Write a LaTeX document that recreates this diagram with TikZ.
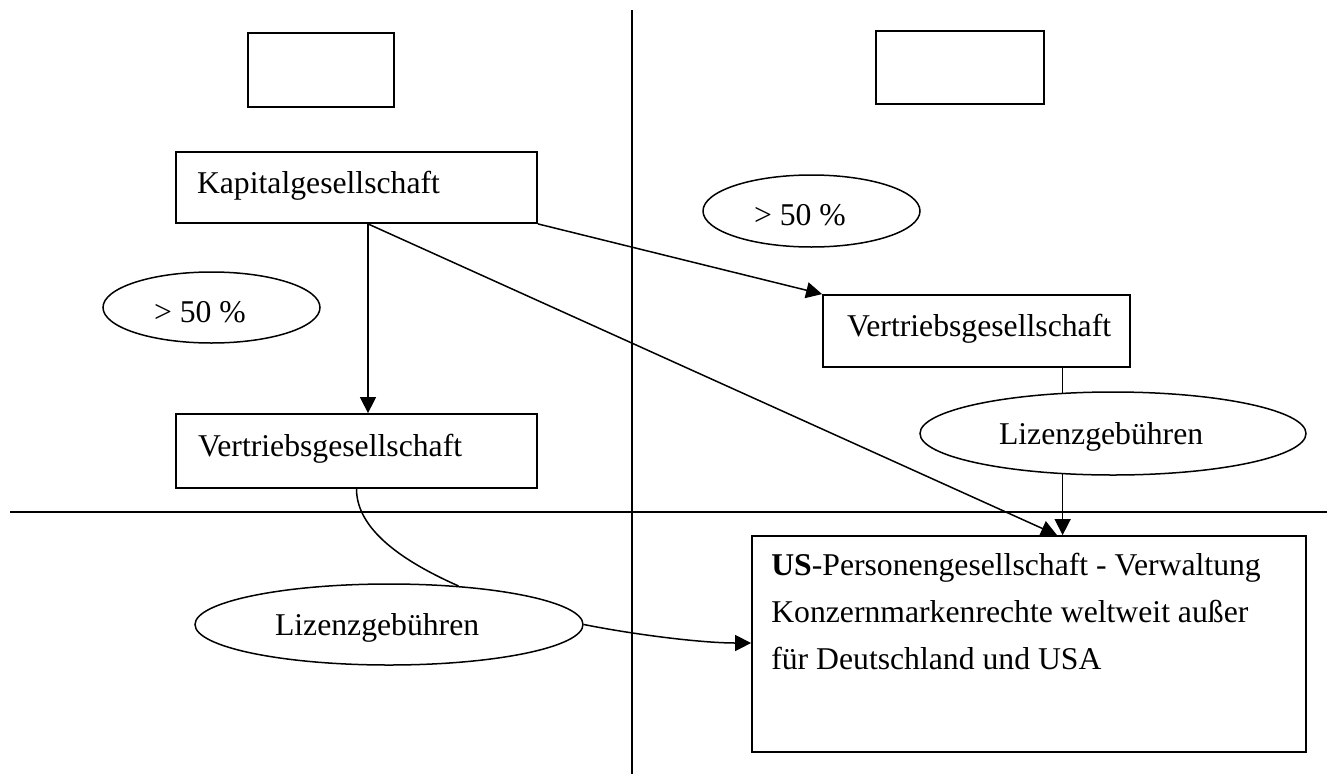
\documentclass[tikz,border=0pt]{standalone}
\usepackage{fontspec}
\setmainfont{Liberation Serif}
\usetikzlibrary{arrows.meta,shapes.geometric}
\newcommand\padl[3]{\makebox[#1][l]{\hspace*{#2}#3}}
\begin{document}
\begin{tikzpicture}[x=1pt,y=-1pt,
  every node/.style={font=\fontsize{31.7pt}{46.5pt}\selectfont},
  box/.style={draw, line width=1.8pt, rectangle, inner sep=0pt},
  boxtext/.style={box, text height=18pt, text depth=7pt},
  oval/.style={draw, ellipse, line width=1.5pt, inner sep=0pt},
  pct/.style={oval, minimum width=217pt, text height=29pt, text depth=0pt},
  fee/.style={oval, text height=28pt, text depth=7pt},
  line/.style={line width=1.5pt},
  arr/.style={line, -{Triangle[length=16pt,width=16pt]}},
  divider/.style={line width=1.5pt},
  plain/.style={anchor=base west, inner sep=0pt}
]
\useasboundingbox (0,0) rectangle (1327,774);

% dividers
\draw[divider] (632,10) -- (632,774);
\draw[divider] (10,512) -- (1327,512);

% boxes
\node[box, minimum width=146pt, minimum height=74pt] (tl) at (321,70) {};
\node[box, minimum width=168pt, minimum height=73pt] (tr) at (960,67.5) {};
\node[boxtext, minimum width=361pt, minimum height=71pt] (kap) at (356.5,187.5) {\padl{361pt}{21pt}{Kapitalgesellschaft}};
\node[boxtext, minimum width=307pt, minimum height=72pt] (vr) at (976.5,331) {\padl{307pt}{24pt}{Vertriebsgesellschaft}};
\node[boxtext, minimum width=361pt, minimum height=74pt] (vl) at (356.5,451) {\padl{361pt}{22pt}{Vertriebsgesellschaft}};
\node[box, minimum width=554pt, minimum height=216pt] (us) at (1029,644) {};
\node[plain] (us1) at ([xshift=20pt,yshift=-40pt]us.north west) {\textbf{US}-Personengesellschaft - Verwaltung};
\node[plain] (us2) at ([xshift=20pt,yshift=-87pt]us.north west) {Konzernmarkenrechte weltweit außer};
\node[plain] (us3) at ([xshift=20pt,yshift=-134pt]us.north west) {für Deutschland und USA};

% ellipses
\node[pct, minimum height=71pt] (pl) at (211.5,307.5) {\padl{115pt}{0pt}{> 50 \%}};
\node[pct, minimum height=72pt] (pr) at (811.5,211) {\padl{115pt}{0pt}{> 50 \%}};
\node[fee, minimum width=386pt, minimum height=83pt] (lr) at (1113,433.5) {\padl{228pt}{0pt}{Lizenzgebühren}};
\node[fee, minimum width=388pt, minimum height=81pt] (ll) at (389,624.5) {\padl{228pt}{0pt}{Lizenzgebühren}};

% connectors
\draw[arr] ([xshift=11.5pt]kap.south) -- ([xshift=11.5pt]vl.north);
\draw[arr] (kap.south east) -- (vr.north west);
\draw[arr] ([xshift=11.5pt]kap.south) -- ([xshift=28pt]us.north);
\draw[line] (lr.141 |- vr.south) -- (lr.141);
\draw[arr] (lr.219) -- (lr.219 |- us.north);
\draw[line] (vl.south) .. controls +(0,45) and +(-45,-20) .. (ll.29);
\draw[arr] (ll.east) .. controls +(50,10) and +(-50,0) .. ([yshift=1pt]us.west);
\end{tikzpicture}
\end{document}
